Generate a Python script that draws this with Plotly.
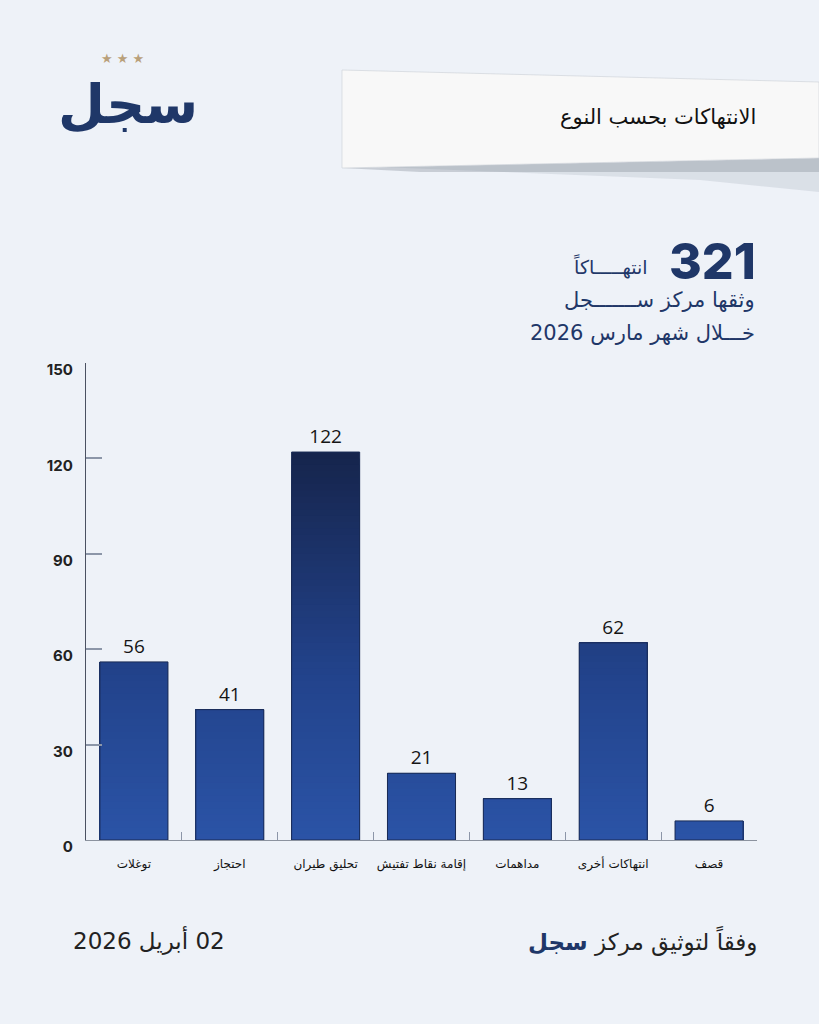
import numpy as np
import plotly.graph_objects as go
from plotly.colors import sample_colorscale

# ---------------- data ----------------
categories = ["توغلات", "احتجاز", "تحليق طيران", "إقامة نقاط تفتيش", "مداهمات", "انتهاكات أخرى", "قصف"]
values = [56, 41, 122, 21, 13, 62, 6]
y_ticks = [0, 30, 60, 90, 120, 150]
total = 321

W, H = 819, 1024
RLE, PDF = "\u202B", "\u202C"


def rtl(s):
    return RLE + s + PDF


def px(x):
    return x / W


def py(y):
    return 1 - y / H


NAVY = "#1f3768"
AR_FONT = "DejaVu Sans, Noto Sans, sans-serif"
NUM_FONT = "Open Sans, Lato, DejaVu Sans, sans-serif"
BOLD_NUM = "Inter, Open Sans, DejaVu Sans, sans-serif"

# gradient in absolute value space (dark at top, brighter blue at bottom)
grad_scale = [[0.0, "#2b54a7"], [0.45, "#22428a"], [1.0, "#16254d"]]
top_val = max(values)
levels = np.arange(2, top_val + 2, 2)[::-1]

fig = go.Figure()
for L in levels:
    col = sample_colorscale(grad_scale, [min(L / top_val, 1.0)])[0]
    fig.add_trace(go.Bar(
        x=categories, y=np.minimum(values, L), width=0.71,
        marker=dict(color=col, line=dict(width=0)),
        hoverinfo="skip", showlegend=False,
    ))

fig.add_trace(go.Bar(
    x=categories, y=values, width=0.71,
    marker=dict(color="rgba(0,0,0,0)", line=dict(color="#1a2b55", width=1)),
    text=[str(v) for v in values], textposition="outside", cliponaxis=False,
    textfont=dict(family=NUM_FONT, size=19, color="#151515"),
    showlegend=False, hovertemplate="%{x}: %{y}<extra></extra>",
))

fig.update_layout(
    width=W, height=H, autosize=False,
    margin=dict(l=0, r=0, t=0, b=0, pad=0),
    paper_bgcolor="#eef2f8", plot_bgcolor="rgba(0,0,0,0)",
    barmode="overlay",
    showlegend=False,
    xaxis=dict(
        domain=[px(86), px(757)], range=[-0.5, 6.5], automargin=False,
        type="category", showgrid=False, zeroline=False,
        showline=True, linecolor="#8c939f", linewidth=1.2,
        ticks="inside", tickson="boundaries", ticklen=8,
        tickcolor="#8c96a8", tickwidth=1.2, tickangle=0,
        tickfont=dict(family=AR_FONT, size=12, color="#111111"),
        ticklabelstandoff=12,
        fixedrange=True,
    ),
    yaxis=dict(
        domain=[py(840), py(363)], range=[0, 150], automargin=False,
        tickvals=y_ticks, showgrid=False, zeroline=False,
        showline=True, linecolor="#4b5262", linewidth=1.2,
        ticks="inside", ticklen=16, tickcolor="#8c96a8", tickwidth=1.5,
        tickfont=dict(family=BOLD_NUM, size=15, color="#222222", weight=700),
        ticklabelstandoff=9, ticklabelshift=7,
        fixedrange=True,
    ),
)

# ---------- banner ----------
shadow = f"M {px(380)},{py(167)} L {px(819)},{py(158)} L {px(819)},{py(192)} L {px(700)},{py(180)} Z"
fig.add_shape(type="path", path=shadow, xref="paper", yref="paper",
              fillcolor="rgba(150,158,172,0.22)", line=dict(width=0), layer="below")
shadow2 = f"M {px(342)},{py(168)} L {px(819)},{py(158)} L {px(819)},{py(172)} L {px(420)},{py(172)} Z"
fig.add_shape(type="path", path=shadow2, xref="paper", yref="paper",
              fillcolor="rgba(130,138,150,0.35)", line=dict(width=0), layer="below")
banner = f"M {px(342)},{py(70)} L {px(819)},{py(82)} L {px(819)},{py(158)} L {px(342)},{py(168)} Z"
fig.add_shape(type="path", path=banner, xref="paper", yref="paper",
              fillcolor="#f8f8f8", line=dict(color="rgba(205,210,216,0.8)", width=0.8), layer="below")

annotations = []


def ann(text, x, y, size, color, xanchor="right", family=AR_FONT, weight=None):
    f = dict(family=family, size=size, color=color)
    if weight:
        f["weight"] = weight
    annotations.append(dict(
        text=text, x=px(x), y=py(y), xref="paper", yref="paper",
        xanchor=xanchor, yanchor="middle", showarrow=False, font=f,
    ))


# title in banner
ann(rtl("الانتهاكات بحسب النوع"), 758, 117, 21, "#111111")

# headline numbers
ann(str(total), 758, 261, 50, NAVY, family=BOLD_NUM, weight=800)
ann(rtl("انتهـــــاكاً"), 650, 266, 19, NAVY)
ann(rtl("وثقها مركز ســـــــجل"), 757, 300, 21, NAVY)
ann(rtl("خـــلال شهر مارس 2026"), 757, 333, 21, NAVY)

# footer
ann(rtl("وفقاً لتوثيق مركز " + "<span style='color:#1f3768'><b>سجل</b></span>"), 759, 941, 23, "#222222")
ann(rtl("02 أبريل 2026"), 71, 940, 23, "#222222", xanchor="left")

# logo
ann("<b>سجل</b>", 128, 104, 54, NAVY, xanchor="center")
ann("★ ★ ★", 122, 58, 13, "#b9a07a", xanchor="center")

fig.update_layout(annotations=annotations)

fig.write_html("out.html", config={"displayModeBar": False},
               post_script="document.body.style.margin='0';")
